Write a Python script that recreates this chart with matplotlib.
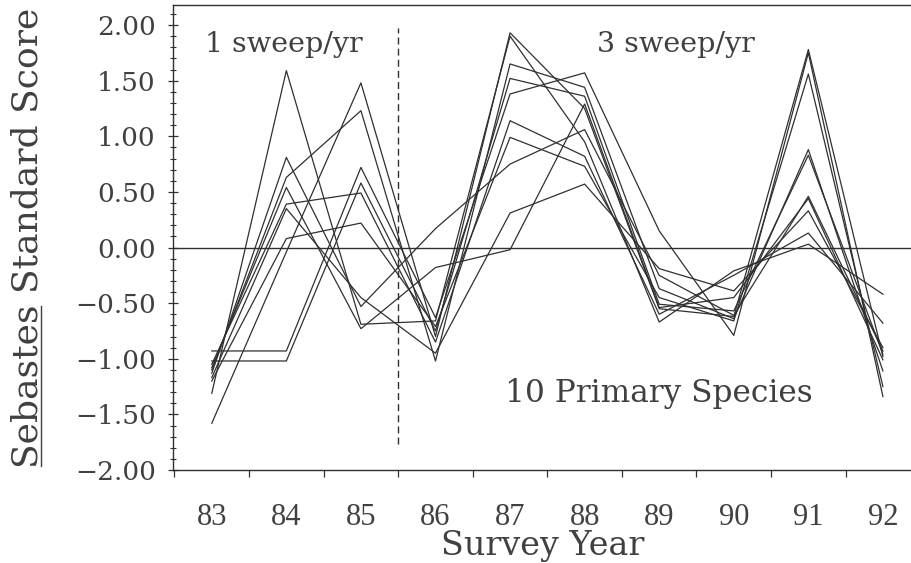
import matplotlib
matplotlib.use('Agg')
import matplotlib.pyplot as plt
from matplotlib.lines import Line2D
from matplotlib.ticker import MultipleLocator, FixedLocator, NullFormatter
import numpy as np

# survey years (19xx) and standard scores of the 10 primary rockfish species
years = [83, 84, 85, 86, 87, 88, 89, 90, 91, 92]
year_labels = ['83', '84', '85', '86', '87', '88', '89', '90', '91', '92']

sp01 = [-1.58, -0.04, 1.48, -0.80, 1.93, 1.25, -0.55, -0.62, 1.78, -0.98]
sp02 = [-1.10, 0.63, 1.23, -1.02, 1.65, 1.44, -0.37, -0.64, 0.88, -1.11]
sp03 = [-0.93, -0.93, 0.72, -0.63, 1.38, 1.57, 0.15, -0.79, 1.75, -1.34]
sp04 = [-1.02, -1.02, 0.58, -0.75, 1.52, 1.36, -0.51, -0.57, 0.83, -0.96]
sp05 = [-1.05, 0.39, 0.49, -0.85, 1.14, 0.82, -0.60, -0.25, 0.13, -0.68]
sp06 = [-1.20, 0.08, 0.22, -0.71, 0.99, 0.73, -0.45, -0.66, 1.56, -1.25]
sp07 = [-1.31, 1.59, -0.69, -0.66, 1.90, 0.95, -0.67, -0.21, 0.03, -0.42]
sp08 = [-1.13, 0.81, -0.53, 0.17, 0.75, 1.06, -0.25, -0.61, 0.46, -0.93]
sp09 = [-1.08, 0.54, -0.73, -0.18, -0.02, 1.29, -0.54, -0.45, 0.44, -1.01]
sp10 = [-1.17, 0.35, -0.45, -0.95, 0.31, 0.57, -0.19, -0.39, 0.33, -0.90]

# sampling changed from 1 to 3 sweeps per year between 85 and 86
sweep_change = 85.5

ink = '#303030'
txt = '#404040'
serif = ['DejaVu Serif']
narrow = ['Liberation Serif', 'DejaVu Serif']

fig = plt.figure(figsize=(9.12, 5.63), dpi=100)
ax = fig.add_axes([173 / 912, 1 - 470 / 563, (912 - 173) / 912, (470 - 5) / 563])

for s in [sp01, sp02, sp03, sp04, sp05, sp06, sp07, sp08, sp09, sp10]:
    ax.plot(years, s, color=ink, lw=0.9)

ax.axhline(0, color=ink, lw=1.0)
ax.plot([sweep_change, sweep_change], [-1.77, 1.97], color=ink, lw=1.0,
        dashes=(5, 3))

ax.set_xlim(82.48, 92.39)
ax.set_ylim(-2.0, 2.18)

# y axis: labelled every 0.5, small ticks every 0.1
ax.yaxis.set_major_locator(FixedLocator(np.arange(-2.0, 2.01, 0.5)))
ax.yaxis.set_minor_locator(MultipleLocator(0.1))
ax.set_yticklabels(['\u22122.00', '\u22121.50', '\u22121.00', '\u22120.50',
                    '0.00', '0.50', '1.00', '1.50', '2.00'])
ax.tick_params(axis='y', which='major', direction='inout', length=7, width=0.9,
               color=ink, pad=9, labelsize=19, labelcolor=txt)
ax.tick_params(axis='y', which='minor', direction='inout', length=4, width=0.8,
               color=ink)
for t in ax.get_yticklabels():
    t.set_family(serif)

# x axis: tick marks between years, labels centred on the years
ax.xaxis.set_major_locator(FixedLocator(np.arange(82.5, 92.0, 1.0)))
ax.xaxis.set_major_formatter(NullFormatter())
ax.xaxis.set_minor_locator(FixedLocator(years))
ax.set_xticklabels(year_labels, minor=True)
ax.tick_params(axis='x', which='major', direction='out', length=5, width=0.9,
               color=ink)
ax.tick_params(axis='x', which='minor', length=0, pad=24, labelsize=22,
               labelcolor=txt)
for t in ax.get_xticklabels(minor=True):
    t.set_family(narrow)

for side in ['left', 'bottom', 'top']:
    ax.spines[side].set_color(ink)
    ax.spines[side].set_linewidth(1.0)
ax.spines['right'].set_visible(False)

fig.text(542.5 / 912, 8 / 563, 'Survey Year', family=serif, fontsize=24,
         color=txt, ha='center', va='baseline')
ylab = ax.set_ylabel('Sebastes Standard Score', family=serif, fontsize=26,
                     color=txt, labelpad=22)

ax.text(82.91, 1.76, '1 sweep/yr', family=serif, fontsize=20.5, color=txt,
        va='baseline')
ax.text(88.17, 1.76, '3 sweep/yr', family=serif, fontsize=20.5, color=txt,
        va='baseline')
ax.text(86.93, -1.39, '10 Primary Species', family=serif, fontsize=22.5,
        color=txt, va='baseline')

# underline the genus name in the y label
fig.canvas.draw()
r = fig.canvas.get_renderer()
bb = ylab.get_window_extent(r)
tmp = fig.text(0, 0, 'Sebastes', family=serif, fontsize=26)
genus_len = tmp.get_window_extent(r).width
tmp.remove()
ux = bb.x1 - 3
to_fig = fig.transFigure.inverted()
p0 = to_fig.transform((ux, bb.y0 + 2))
p1 = to_fig.transform((ux, bb.y0 + genus_len - 2))
fig.add_artist(Line2D([p0[0], p1[0]], [p0[1], p1[1]], color=txt, lw=1.0))

fig.savefig('out.png', dpi=100)
